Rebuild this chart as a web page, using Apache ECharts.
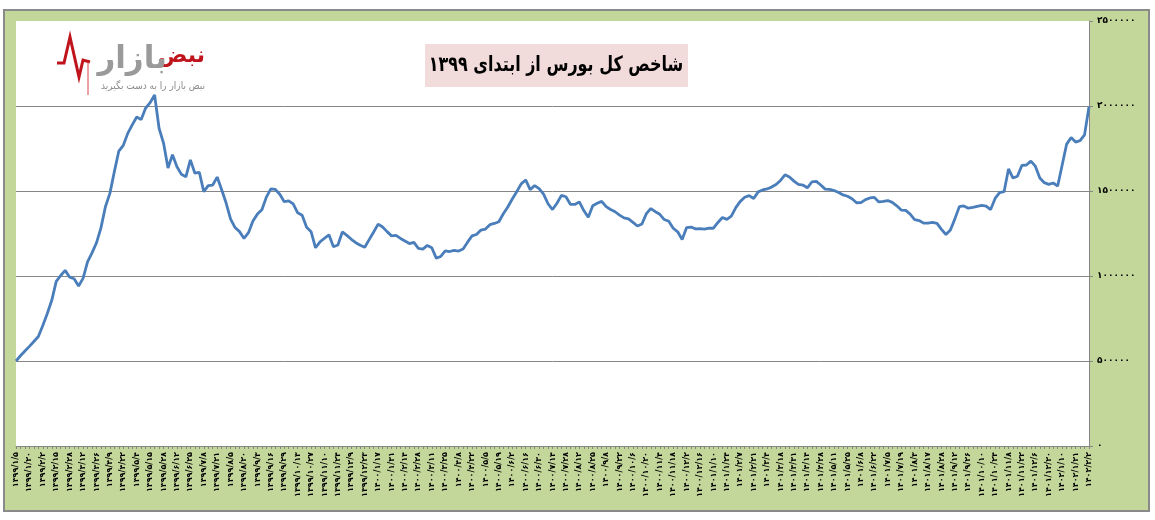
<!DOCTYPE html>
<html>
<head>
<meta charset="utf-8">
<script src="https://cdn.jsdelivr.net/npm/echarts@6/dist/echarts.min.js"></script>
<style>
html,body{margin:0;padding:0;background:#ffffff;}
#frame{position:absolute;left:3px;top:9px;width:1147px;height:503px;box-sizing:border-box;background:#c4d79b;border:2px solid #8a8a8a;}
#chart{position:absolute;left:0;top:0;width:1155px;height:520px;}
</style>
</head>
<body>
<div id="frame"></div>
<div id="chart" dir="rtl"></div>
<script>
// Tick labels of the category axis (one every 3 data points)
const dateLabels = [
'۱۳۹۹/۱/۵','۱۳۹۹/۱/۲۰','۱۳۹۹/۲/۲','۱۳۹۹/۲/۱۵','۱۳۹۹/۲/۲۸','۱۳۹۹/۳/۱۲','۱۳۹۹/۳/۲۶','۱۳۹۹/۴/۹','۱۳۹۹/۴/۲۲','۱۳۹۹/۵/۴',
'۱۳۹۹/۵/۱۵','۱۳۹۹/۵/۲۸','۱۳۹۹/۶/۱۲','۱۳۹۹/۶/۲۵','۱۳۹۹/۷/۸','۱۳۹۹/۷/۲۱','۱۳۹۹/۸/۵','۱۳۹۹/۸/۲۰','۱۳۹۹/۹/۳','۱۳۹۹/۹/۱۶',
'۱۳۹۹/۹/۲۹','۱۳۹۹/۱۰/۱۳','۱۳۹۹/۱۰/۲۷','۱۳۹۹/۱۱/۱۰','۱۳۹۹/۱۱/۲۴','۱۳۹۹/۱۲/۹','۱۳۹۹/۱۲/۲۳','۱۴۰۰/۱/۱۷','۱۴۰۰/۱/۳۱','۱۴۰۰/۲/۱۴',
'۱۴۰۰/۲/۲۸','۱۴۰۰/۳/۱۱','۱۴۰۰/۳/۲۵','۱۴۰۰/۴/۸','۱۴۰۰/۴/۲۲','۱۴۰۰/۵/۵','۱۴۰۰/۵/۱۹','۱۴۰۰/۶/۲','۱۴۰۰/۶/۱۶','۱۴۰۰/۶/۳۰',
'۱۴۰۰/۷/۱۴','۱۴۰۰/۷/۲۸','۱۴۰۰/۸/۱۲','۱۴۰۰/۸/۲۵','۱۴۰۰/۹/۸','۱۴۰۰/۹/۲۲','۱۴۰۰/۱۰/۶','۱۴۰۰/۱۰/۲۰','۱۴۰۰/۱۱/۴','۱۴۰۰/۱۱/۱۸',
'۱۴۰۰/۱۲/۲','۱۴۰۰/۱۲/۱۶','۱۴۰۱/۱/۱۰','۱۴۰۱/۱/۲۴','۱۴۰۱/۲/۷','۱۴۰۱/۲/۲۱','۱۴۰۱/۳/۴','۱۴۰۱/۳/۱۸','۱۴۰۱/۳/۳۱','۱۴۰۱/۴/۱۴',
'۱۴۰۱/۴/۲۸','۱۴۰۱/۵/۱۱','۱۴۰۱/۵/۲۵','۱۴۰۱/۶/۸','۱۴۰۱/۶/۲۲','۱۴۰۱/۷/۵','۱۴۰۱/۷/۱۹','۱۴۰۱/۸/۳','۱۴۰۱/۸/۱۷','۱۴۰۱/۸/۲۸',
'۱۴۰۱/۹/۱۲','۱۴۰۱/۹/۲۶','۱۴۰۱/۱۰/۱۰','۱۴۰۱/۱۰/۲۴','۱۴۰۱/۱۱/۸','۱۴۰۱/۱۱/۲۲','۱۴۰۱/۱۲/۶','۱۴۰۱/۱۲/۲۰','۱۴۰۲/۱/۱۰','۱۴۰۲/۱/۲۱',
'۱۴۰۲/۲/۲'
];

// TEDPIX values
const indexValues = [
500000,531000,559000,586000,615000,644000,709000,779000,857000,968000,
1003000,1033000,993000,984000,941000,986000,1083000,1136000,1195000,1283000,
1407000,1486000,1614000,1735000,1769000,1839000,1889000,1935000,1920000,1988000,
2020000,2065000,1869000,1782000,1635000,1713000,1643000,1598000,1583000,1683000,
1605000,1610000,1496000,1532000,1535000,1582000,1507000,1429000,1335000,1285000,
1261000,1221000,1255000,1324000,1364000,1390000,1464000,1513000,1509000,1481000,
1437000,1442000,1424000,1372000,1358000,1287000,1261000,1166000,1201000,1222000,
1242000,1172000,1182000,1259000,1239000,1216000,1196000,1181000,1169000,1214000,
1259000,1305000,1288000,1261000,1236000,1239000,1221000,1206000,1191000,1198000,
1163000,1158000,1180000,1166000,1105000,1115000,1148000,1144000,1151000,1147000,
1159000,1199000,1236000,1244000,1270000,1276000,1302000,1309000,1319000,1366000,
1406000,1453000,1496000,1542000,1565000,1508000,1532000,1514000,1482000,1425000,
1391000,1428000,1474000,1466000,1422000,1421000,1436000,1385000,1345000,1413000,
1428000,1439000,1408000,1391000,1378000,1358000,1342000,1336000,1315000,1294000,
1306000,1367000,1397000,1378000,1363000,1332000,1322000,1281000,1260000,1215000,
1285000,1288000,1277000,1279000,1276000,1281000,1281000,1315000,1344000,1333000,
1352000,1402000,1439000,1463000,1473000,1456000,1495000,1506000,1512000,1523000,
1538000,1562000,1595000,1582000,1558000,1539000,1535000,1519000,1553000,1557000,
1535000,1511000,1509000,1503000,1491000,1477000,1469000,1454000,1431000,1432000,
1449000,1459000,1462000,1436000,1439000,1444000,1433000,1413000,1388000,1386000,
1364000,1331000,1326000,1311000,1311000,1316000,1310000,1274000,1244000,1271000,
1336000,1408000,1412000,1399000,1404000,1410000,1415000,1411000,1391000,1456000,
1490000,1496000,1630000,1576000,1587000,1651000,1653000,1676000,1646000,1576000,
1549000,1539000,1547000,1529000,1653000,1776000,1814000,1788000,1796000,1830000,
1996000
];

// Value axis tick labels
const yTickLabels = ['۰','۵۰۰۰۰۰','۱۰۰۰۰۰۰','۱۵۰۰۰۰۰','۲۰۰۰۰۰۰','۲۵۰۰۰۰۰'];

const titleText = 'شاخص کل بورس از ابتدای ۱۳۹۹';
const logoRed = 'نبض';
const logoGray = 'بازار';
const logoSlogan = 'نبض بازار را به دست بگیرید';

// categories: each tick label followed by two unlabeled trading days
const categories = [];
dateLabels.forEach((d, i) => {
  categories.push(d);
  if (i < dateLabels.length - 1) { categories.push(''); categories.push(''); }
});

const chart = echarts.init(document.getElementById('chart'));
chart.setOption({
  animation: false,
  backgroundColor: 'transparent',
  grid: { left: 16, right: 66, top: 21, bottom: 74, show: true, backgroundColor: '#ffffff', borderWidth: 0 },
  xAxis: {
    type: 'category',
    data: categories,
    boundaryGap: false,
    axisLine: { show: true, lineStyle: { color: '#868686', width: 1 } },
    axisTick: { show: true, interval: 0, length: 3, lineStyle: { color: '#868686' } },
    axisLabel: {
      interval: 0, rotate: 90, fontSize: 8, color: '#000', margin: 6,
      fontFamily: 'DejaVu Sans', fontWeight: 'bold'
    },
    splitLine: { show: false }
  },
  yAxis: {
    type: 'value',
    position: 'right',
    min: 0, max: 2500000, interval: 500000,
    axisLine: { show: true, lineStyle: { color: '#868686', width: 1 } },
    axisTick: { show: true, length: 4, lineStyle: { color: '#868686' } },
    axisLabel: {
      margin: 8, fontSize: 9, color: '#000', fontFamily: 'DejaVu Sans', fontWeight: 'bold',
      formatter: v => yTickLabels[Math.round(v / 500000)]
    },
    splitLine: { show: true, lineStyle: { color: ['#868686','#868686','#868686','#868686','#868686','rgba(0,0,0,0)'], width: 1 } }
  },
  series: [{
    type: 'line',
    data: indexValues,
    symbol: 'none',
    smooth: false,
    lineStyle: { color: '#4a7ebb', width: 2.8 },
    z: 3
  }],
  graphic: [
    { type: 'rect', shape: { x: 425, y: 44, width: 263, height: 43 }, style: { fill: '#f2dcdb' }, z: 10 },
    { type: 'text', x: 556, y: 66, scaleX: 0.76, style: { text: titleText, fill: '#000', font: 'bold 21px "DejaVu Sans"', textAlign: 'center', textVerticalAlign: 'middle' }, z: 11 },
    { type: 'polyline', shape: { points: [[57,63],[64,63],[70,37],[79,77],[83,60],[90,62]] }, style: { stroke: '#c0141c', lineWidth: 3, fill: null }, z: 10 },
    { type: 'line', shape: { x1: 88, y1: 62, x2: 88, y2: 95 }, style: { stroke: '#d9434a', lineWidth: 1 }, z: 10 },
    { type: 'text', x: 205, y: 56, style: { text: logoRed, fill: '#c0141c', font: 'bold 22px "DejaVu Sans"', textAlign: 'right', textVerticalAlign: 'middle' }, z: 10 },
    { type: 'text', x: 167, y: 60, style: { text: logoGray, fill: '#9a9a9a', font: 'bold 31px "DejaVu Sans"', textAlign: 'right', textVerticalAlign: 'middle' }, z: 10 },
    { type: 'text', x: 205, y: 86, scaleX: 0.9, style: { text: logoSlogan, fill: '#8a8a8a', font: '10px "DejaVu Sans"', textAlign: 'right', textVerticalAlign: 'middle' }, z: 10 }
  ]
});
</script>
</body>
</html>
